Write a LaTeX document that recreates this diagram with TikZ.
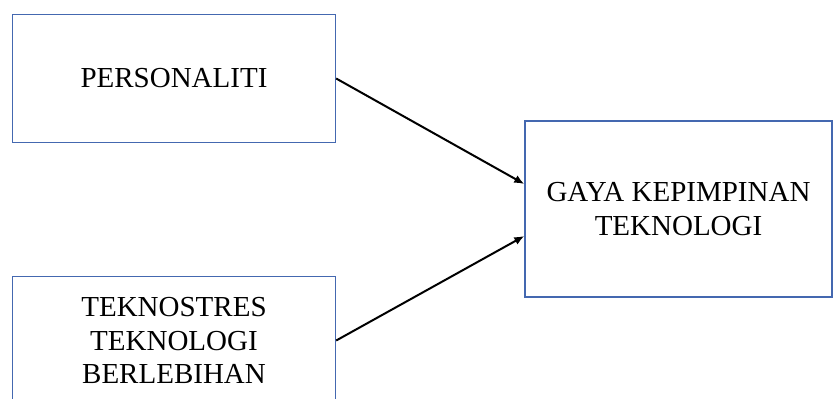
\documentclass[tikz,border=0pt]{standalone}
\usepackage{fontspec}
\setmainfont{Liberation Serif}
\usetikzlibrary{arrows.meta,positioning}
\definecolor{boxblue}{RGB}{68,104,176}
\tikzset{
  varbox/.style={draw=boxblue, line width=0.7pt, align=center, inner sep=0pt,
    font=\fontsize{14.5}{16.6}\selectfont},
  link/.style={-{Latex[length=5pt,width=4.2pt]}, line width=1pt}
}

\begin{document}
\begin{tikzpicture}[x=0.5pt,y=-0.5pt]
  \useasboundingbox (0,0) rectangle (835,398);
  \node[varbox, minimum width=161.5pt, minimum height=64pt] (per) at (174,78.5) {PERSONALITI};
  \node[varbox, minimum width=161.5pt, minimum height=64pt] (tek) at (174,340.5) {TEKNOSTRES\\TEKNOLOGI\\BERLEBIHAN};
  \node[varbox, minimum width=153.5pt, minimum height=88pt] (gaya) at (678.5,209) {GAYA KEPIMPINAN\\TEKNOLOGI};
% arrows into the right box
  \draw[link] (per.east) -- ([yshift=12.5pt]gaya.west);
  \draw[link] (tek.east) -- ([yshift=-13.5pt]gaya.west);
\end{tikzpicture}
\end{document}
